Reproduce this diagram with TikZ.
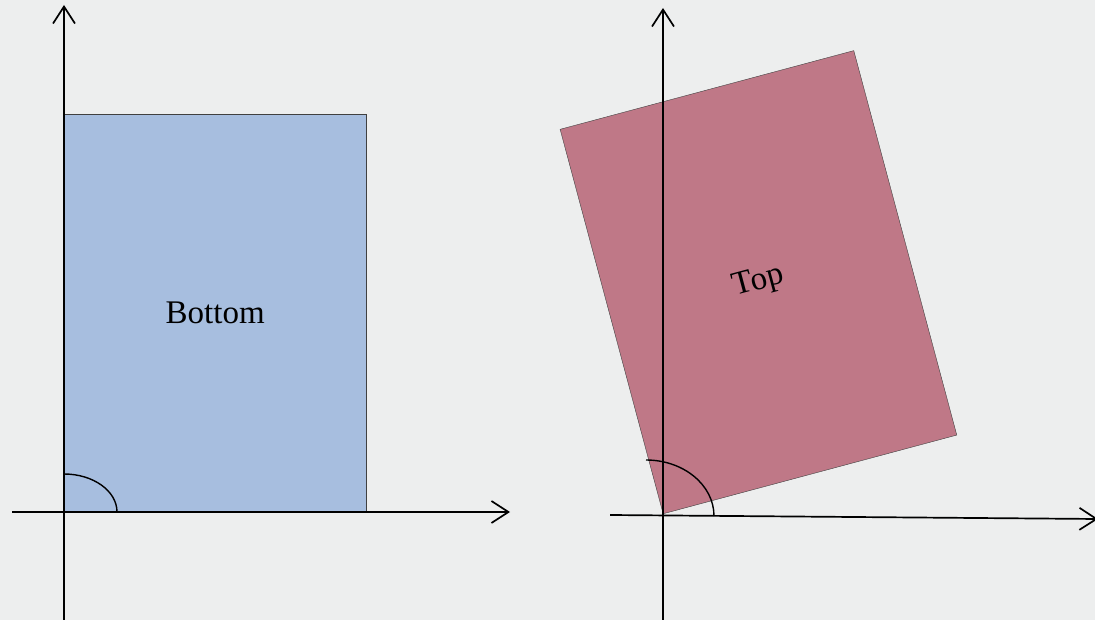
\documentclass[tikz,border=0pt]{standalone}
\usepackage{fontspec}
\setmainfont{Liberation Serif}
\usetikzlibrary{arrows.meta}
\definecolor{marble}{RGB}{237,238,238}
\definecolor{paleblue}{RGB}{167,190,223}
\definecolor{dustyrose}{RGB}{191,120,135}

\begin{document}
\begin{tikzpicture}[x=1pt, y=-1pt,
  axis/.style={-{Straight Barb[length=17pt, width=22pt, line width=1.7pt]}, line width=1.7pt},
  panel/.style={draw=black!75, line width=0.4pt, inner sep=0pt,
    font=\fontsize{33}{38}\selectfont},
  angarc/.style={line width=1.4pt},
]
\fill[marble] (0,0) rectangle (1095,620);
\useasboundingbox (0,0) rectangle (1095,620);
% left: upright rectangle
\coordinate (o1) at (64,512);
\node[panel, fill=paleblue, minimum width=302pt, minimum height=398pt,
  anchor=south west] (bottom) at (o1) {Bottom};
\coordinate (y1s) at (64,620);
\coordinate (y1e) at (64,5);
\coordinate (x1s) at (12,512);
\coordinate (x1e) at (510,512);
\draw[axis] (y1s) -- (y1e);
\draw[axis] (x1s) -- (x1e);
\draw[angarc] (64,474) arc[start angle=-90, end angle=0, x radius=53, y radius=38];
% right: tilted rectangle
\coordinate (o2) at (663,514);
\node[panel, fill=dustyrose, minimum width=304pt, minimum height=398pt,
  rotate=15, anchor=south west] (top) at (o2) {Top};
\coordinate (y2s) at (663,620);
\coordinate (y2e) at (663,8);
\coordinate (x2s) at (610,515);
\coordinate (x2e) at (1098,519);
\draw[axis] (y2s) -- (y2e);
\draw[axis] (x2s) -- (x2e);
\draw[angarc] (646,460) arc[start angle=-90, end angle=0, x radius=68, y radius=56];
\end{tikzpicture}
\end{document}
